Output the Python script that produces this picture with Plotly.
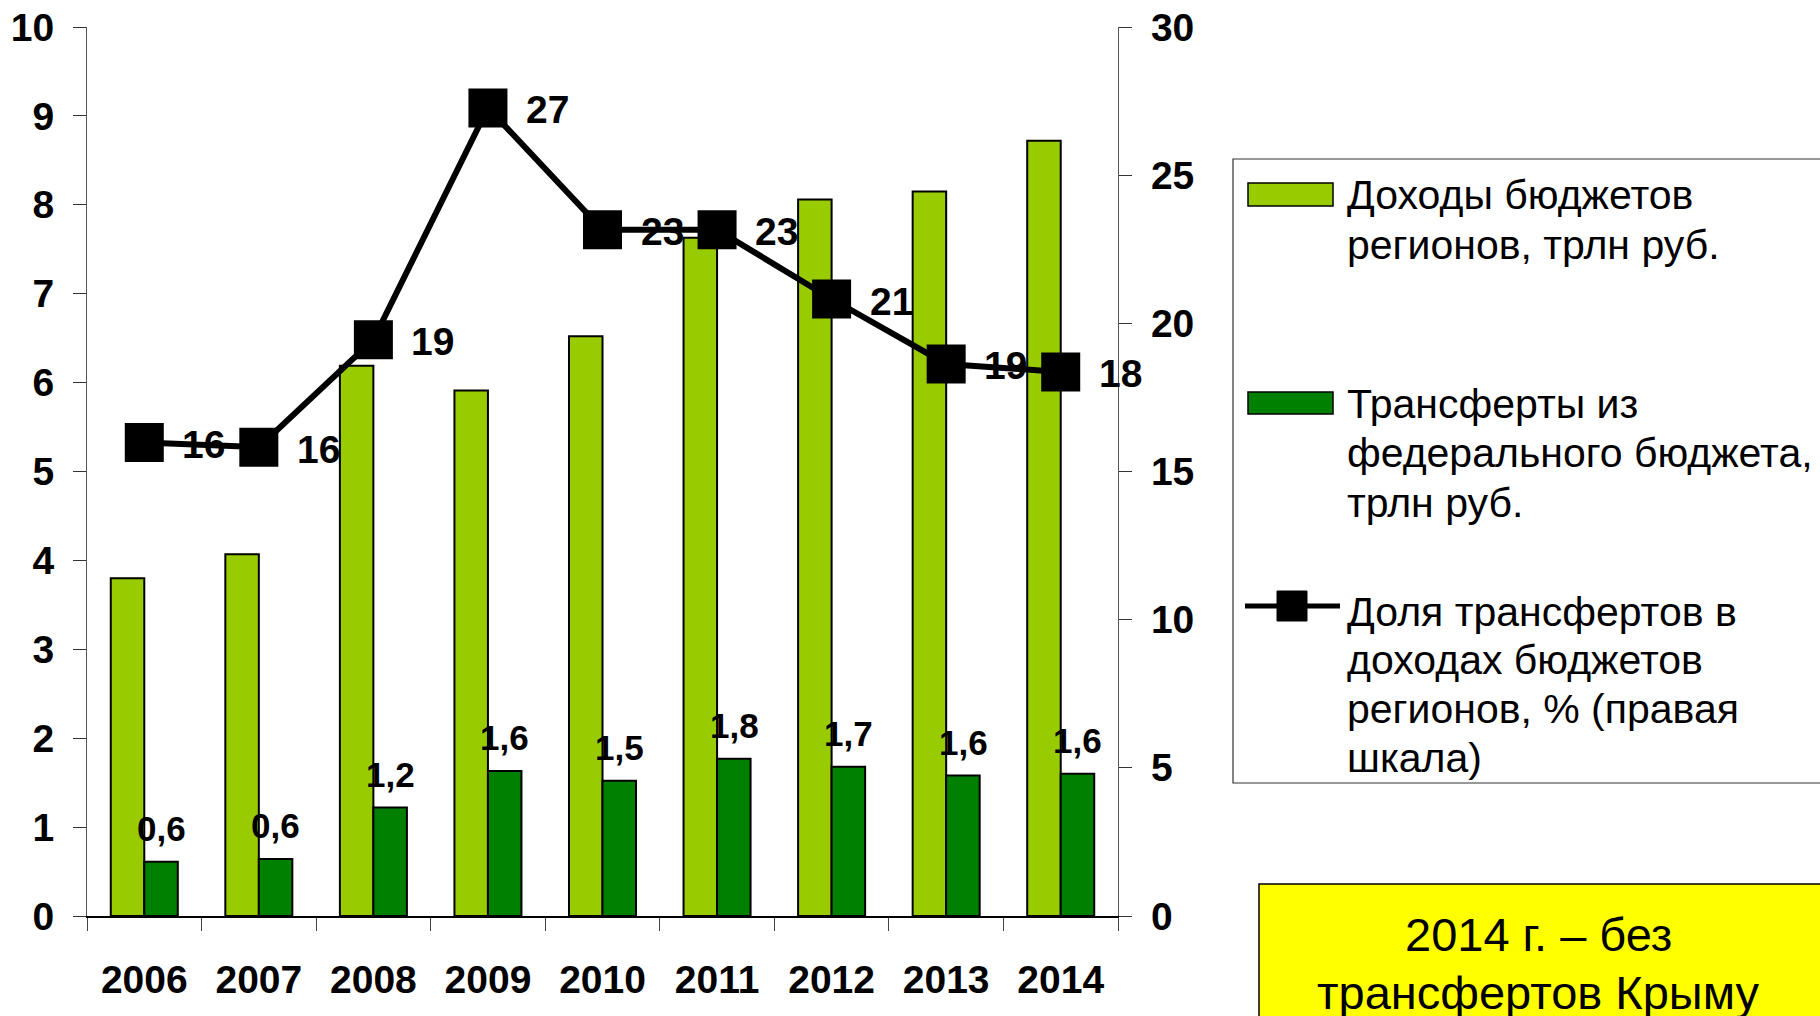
import plotly.graph_objects as go

years = ["2006", "2007", "2008", "2009", "2010", "2011", "2012", "2013", "2014"]
revenues = [3.80, 4.07, 6.19, 5.91, 6.52, 7.63, 8.06, 8.15, 8.72]
transfers = [0.61, 0.64, 1.22, 1.63, 1.52, 1.77, 1.68, 1.58, 1.60]
share = [15.98, 15.82, 19.45, 27.27, 23.16, 23.16, 20.82, 18.63, 18.36]

name_rev = "Доходы бюджетов<br>регионов, трлн руб."
name_tr = "Трансферты из<br>федерального бюджета,<br>трлн руб."
name_sh = "Доля трансфертов в<br>доходах бюджетов<br>регионов, % (правая<br>шкала)"
note_text = "2014 г. – без<br>трансфертов Крыму"

LIGHT = "#99CC00"
DARK = "#008000"
FONT = "Liberation Sans, Arial, sans-serif"

W, H = 1820, 1016
ML, MR, MT, MB = 87, 702, 27, 100
PW = W - ML - MR
PH = H - MT - MB


def px(x):
    return (x - ML) / PW


def py(y):
    return (H - MB - y) / PH


fig = go.Figure()
fig.add_trace(go.Bar(x=years, y=revenues, name=name_rev,
                     marker=dict(color=LIGHT, line=dict(color="black", width=2)), showlegend=False))
fig.add_trace(go.Bar(x=years, y=transfers, name=name_tr,
                     marker=dict(color=DARK, line=dict(color="black", width=2)), showlegend=False))
fig.add_trace(go.Scatter(
    x=years, y=share, yaxis="y2", name=name_sh, mode="lines+markers",
    line=dict(color="black", width=6),
    marker=dict(symbol="square", size=39, color="black"),
    showlegend=False, cliponaxis=False,
))

annotations = []
# labels of the transfer bars
for i, v in enumerate(transfers):
    annotations.append(dict(
        x=i, y=v, xref="x", yref="y", text=f"{v:.1f}".replace(".", ","),
        showarrow=False, xshift=17, yshift=12, yanchor="bottom",
        font=dict(family=FONT, size=35, color="black", weight="bold"),
    ))
# labels of the share line
for i, v in enumerate(share):
    annotations.append(dict(
        x=i, y=v, xref="x", yref="y2", text=f"{round(v)}",
        showarrow=False, xshift=36, yshift=-2, xanchor="left", yanchor="middle",
        font=dict(family=FONT, size=39, color="black", weight="bold"),
    ))

# legend texts (one annotation per line to keep line spacing)
legend_lines = [(name_rev, [195, 245]), (name_tr, [404, 453, 503]), (name_sh, [612, 660, 709, 758])]
for txt, centers in legend_lines:
    for line, cy in zip(txt.split("<br>"), centers):
        annotations.append(dict(
            x=px(1345), y=py(cy), xref="paper", yref="paper", text=line,
            showarrow=False, xanchor="left", yanchor="middle", align="left",
            font=dict(family=FONT, size=41, color="black"),
        ))
for line, cy in zip(note_text.split("<br>"), [934, 992]):
    annotations.append(dict(
        x=px(1538), y=py(cy), xref="paper", yref="paper", text=line,
        showarrow=False, xanchor="center", yanchor="middle", align="center",
        font=dict(family=FONT, size=47, color="black"),
    ))

shapes = [
    dict(type="rect", xref="paper", yref="paper", x0=px(1233), x1=px(1840), y0=py(159), y1=py(783),
         line=dict(color="#333333", width=1.2), fillcolor="rgba(0,0,0,0)"),
    dict(type="rect", xref="paper", yref="paper", x0=px(1248), x1=px(1333), y0=py(183), y1=py(206),
         line=dict(color="black", width=1.5), fillcolor=LIGHT),
    dict(type="rect", xref="paper", yref="paper", x0=px(1248), x1=px(1333), y0=py(392), y1=py(414),
         line=dict(color="black", width=1.5), fillcolor=DARK),
    dict(type="line", xref="paper", yref="paper", x0=px(1245), x1=px(1340), y0=py(606), y1=py(606),
         line=dict(color="black", width=5)),
    dict(type="rect", xref="paper", yref="paper", x0=px(1277), x1=px(1307), y0=py(591), y1=py(621),
         line=dict(color="black", width=1), fillcolor="black"),
    dict(type="rect", xref="paper", yref="paper", x0=px(1259), x1=px(1840), y0=py(884), y1=py(1040),
         line=dict(color="black", width=1.5), fillcolor="#FFFF00", layer="below"),
]

tickfont = dict(family=FONT, size=39, color="black", weight="bold")

fig.update_layout(
    width=W, height=H,
    margin=dict(l=ML, r=MR, t=MT, b=MB, autoexpand=False),
    paper_bgcolor="white", plot_bgcolor="white",
    barmode="group", bargap=0.415, bargroupgap=0,
    showlegend=False,
    font=dict(family=FONT, color="black"),
    xaxis=dict(
        type="category", categoryorder="array", categoryarray=years,
        range=[-0.5, len(years) - 0.5], autorange=False, automargin=False,
        showline=True, linecolor="black", linewidth=1.5,
        ticks="outside", tickson="boundaries", ticklen=13, tickcolor="#444", tickwidth=1,
        tickfont=tickfont, ticklabelstandoff=28, showgrid=False, zeroline=False, tickangle=0,
    ),
    yaxis=dict(
        range=[0, 10], dtick=1, automargin=False,
        showline=True, linecolor="#555", linewidth=1.2,
        ticks="outside", ticklen=13, tickcolor="#333", tickwidth=1,
        tickfont=tickfont, ticklabelstandoff=11, showgrid=False, zeroline=False,
    ),
    yaxis2=dict(
        range=[0, 30], dtick=5, overlaying="y", side="right", automargin=False,
        showline=True, linecolor="#555", linewidth=1.2,
        ticks="outside", ticklen=13, tickcolor="#333", tickwidth=1,
        tickfont=tickfont, ticklabelstandoff=11, showgrid=False, zeroline=False,
    ),
    yaxis3=dict(
        range=[0, 30], dtick=5, overlaying="y", side="right", anchor="x", automargin=False,
        showline=False, ticks="inside", ticklen=12, tickcolor="#333", tickwidth=1,
        showticklabels=False, showgrid=False, zeroline=False,
    ),
    annotations=annotations,
    shapes=shapes,
)

fig.write_html("out.html", config={"displayModeBar": False},
               post_script="document.body.style.margin='0';document.body.style.overflow='hidden';")
